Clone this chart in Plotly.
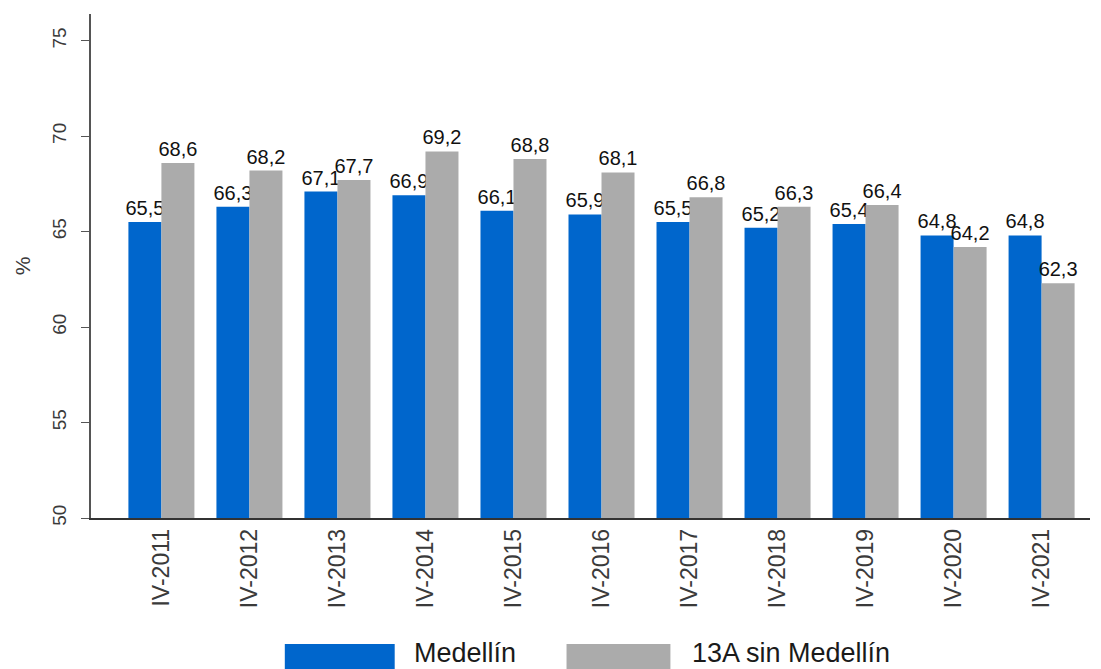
import plotly.graph_objects as go

periodos = ["IV-2011", "IV-2012", "IV-2013", "IV-2014", "IV-2015", "IV-2016",
            "IV-2017", "IV-2018", "IV-2019", "IV-2020", "IV-2021"]
medellin = [65.5, 66.3, 67.1, 66.9, 66.1, 65.9, 65.5, 65.2, 65.4, 64.8, 64.8]
sin_medellin = [68.6, 68.2, 67.7, 69.2, 68.8, 68.1, 66.8, 66.3, 66.4, 64.2, 62.3]

azul = "#0066CC"
gris = "#ABABAB"
fuente = "Liberation Sans, Arial, sans-serif"

fig = go.Figure()
fig.add_trace(go.Bar(
    x=periodos, y=medellin, name="Medellín",
    marker=dict(color=azul, line=dict(width=0)),
    texttemplate="%{y:.1f}", constraintext="none",
    textposition="outside", cliponaxis=False,
    textfont=dict(size=20, color="#111111", family=fuente),
))
fig.add_trace(go.Bar(
    x=periodos, y=sin_medellin, name="13A sin Medellín",
    marker=dict(color=gris, line=dict(width=0)),
    texttemplate="%{y:.1f}", constraintext="none",
    textposition="outside", cliponaxis=False,
    textfont=dict(size=20, color="#111111", family=fuente),
))

# la página tiene 8 px de margen, por eso la figura es algo menor que la ventana
fig.update_layout(
    width=1093, height=661,
    margin=dict(l=83, r=11, t=6, b=151),
    paper_bgcolor="white", plot_bgcolor="white",
    separators=", ",
    barmode="group", bargap=0.25, bargroupgap=0,
    showlegend=False,
    font=dict(family=fuente, color="#333333", size=18),
)
fig.update_xaxes(
    range=[-0.8, 10.55], automargin=False,
    showline=True, linecolor="#333333", linewidth=1.5,
    tickangle=-90, ticks="", showgrid=False,
    tickfont=dict(size=23, color="#3a3a3a"),
)
fig.update_yaxes(
    range=[50, 76.4], dtick=5, tick0=50, automargin=False,
    showline=True, linecolor="#555555", linewidth=1.5,
    ticks="outside", ticklen=8, tickcolor="#555555",
    tickangle=-90, showgrid=False, zeroline=False,
    ticklabelstandoff=8,
    tickfont=dict(size=19, color="#3a3a3a"),
    title=dict(text="%", font=dict(size=21, color="#3a3a3a"), standoff=12),
)

# leyenda dibujada a mano (cuadros grandes como en el original)
leyenda = [(0.194, 0.304, 0.321, azul, "Medellín"),
           (0.476, 0.580, 0.600, gris, "13A sin Medellín")]
for x0, x1, xt, color, nombre in leyenda:
    fig.add_shape(type="rect", xref="paper", yref="paper",
                  x0=x0, x1=x1, y0=-0.32, y1=-0.25,
                  fillcolor=color, line=dict(width=0))
    fig.add_annotation(xref="paper", yref="paper", x=xt, y=-0.268,
                       text=nombre, showarrow=False, xanchor="left",
                       yanchor="middle",
                       font=dict(size=27, color="#1a1a1a", family=fuente))

fig.write_html("out.html")
